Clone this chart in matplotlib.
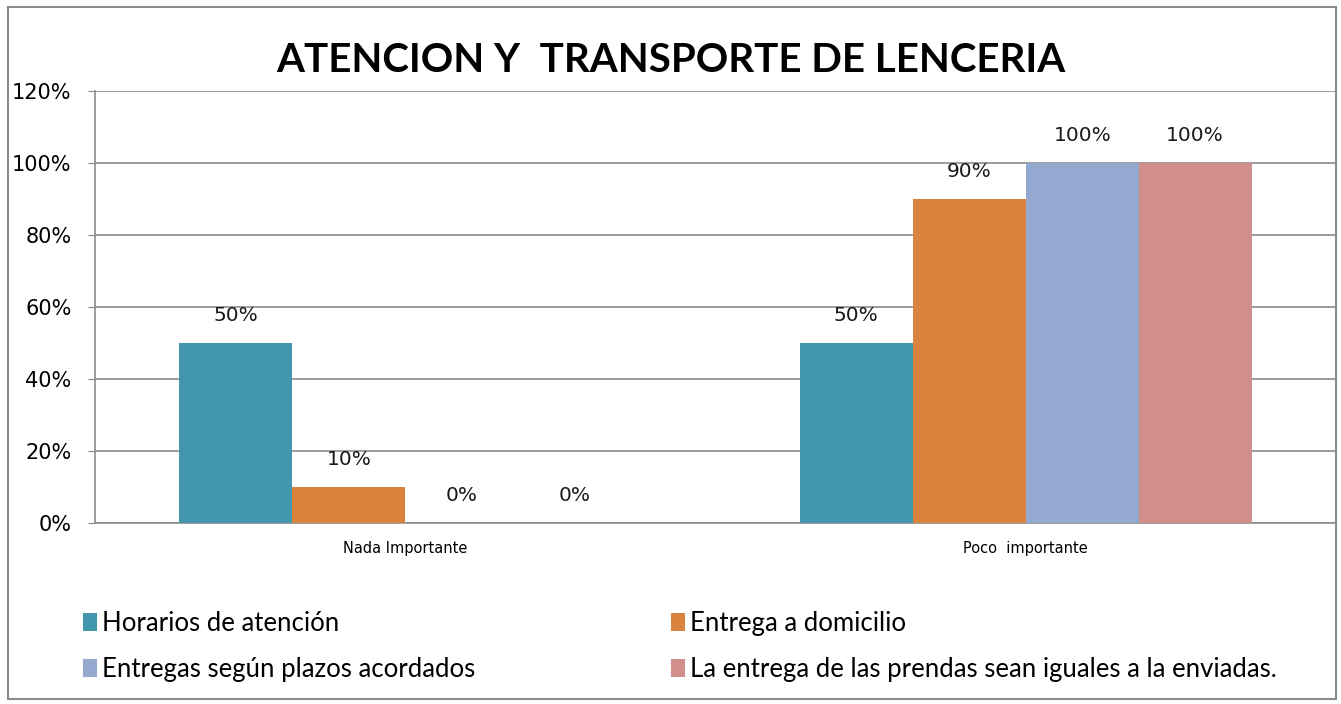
import matplotlib
matplotlib.use("Agg")
import matplotlib.pyplot as plt
from matplotlib.patches import Rectangle
import numpy as np

categories = ["Nada Importante", "Poco  importante"]
series_names = ["Horarios de atención", "Entrega a domicilio",
                "Entregas según plazos acordados",
                "La entrega de las prendas sean iguales a la enviadas."]
values = {
    "Horarios de atención": [50, 50],
    "Entrega a domicilio": [10, 90],
    "Entregas según plazos acordados": [0, 100],
    "La entrega de las prendas sean iguales a la enviadas.": [0, 100],
}
colors = ["#4397ad", "#d9833f", "#93a9cf", "#d08e8d"]
yticks = [0, 20, 40, 60, 80, 100, 120]
title = "ATENCION Y  TRANSPORTE DE LENCERIA"

fig = plt.figure(figsize=(13.41, 7.04), dpi=100)
fig.patches.append(Rectangle((8/1341, 1-699/704), (1336-8)/1341, (699-7)/704,
                             transform=fig.transFigure, fill=False,
                             edgecolor="#8c8c8c", linewidth=1.5))

ax = fig.add_axes([95/1341, 1-523/704, 1241/1341, 432/704])
x = np.arange(len(categories))
bw = 0.182
n = len(series_names)
for i, (name, c) in enumerate(zip(series_names, colors)):
    xs = x + (i - (n-1)/2) * bw
    vals = values[name]
    ax.bar(xs, vals, width=bw, color=c, label=name, zorder=3)
    for xx, v in zip(xs, vals):
        ax.annotate(f"{v}%", (xx, v), xytext=(0, 19.5), textcoords="offset points",
                    ha="center", va="center", fontsize=14.5, family="DejaVu Sans",
                    color="#1a1a1a", zorder=4)

ax.set_xlim(-0.5, len(categories) - 0.5)
ax.set_ylim(0, 120)
ax.set_yticks(yticks)
ax.set_yticklabels([f"{t}%" for t in yticks], fontsize=15, family="DejaVu Sans")
ax.set_xticks(x)
ax.set_xticklabels(categories, fontsize=10.5, family="DejaVu Sans")
ax.tick_params(axis="x", length=0, pad=13)
ax.tick_params(axis="y", length=5, color="#8c8c8c", pad=12)
ax.grid(axis="y", color="#8c8c8c", linewidth=1.2, zorder=0)
for s in ["top", "right"]:
    ax.spines[s].set_visible(False)
for s in ["left", "bottom"]:
    ax.spines[s].set_color("#8c8c8c")
    ax.spines[s].set_linewidth(1.2)

fig.text(671/1341, 1-60/704, title, ha="center", va="center",
         fontsize=29, fontweight="bold", family="Lato")

handles, labels = ax.get_legend_handles_labels()
order = [0, 2, 1, 3]
fig.legend([handles[i] for i in order], [labels[i] for i in order],
           loc="upper left", bbox_to_anchor=(60/1341, 1-588/704),
           ncol=2, frameon=False, prop={"family": "Lato", "size": 18.5},
           handlelength=0.55, handleheight=0.7, handletextpad=0.2,
           columnspacing=7.6, labelspacing=0.82)

fig.savefig("out.png", dpi=100)
